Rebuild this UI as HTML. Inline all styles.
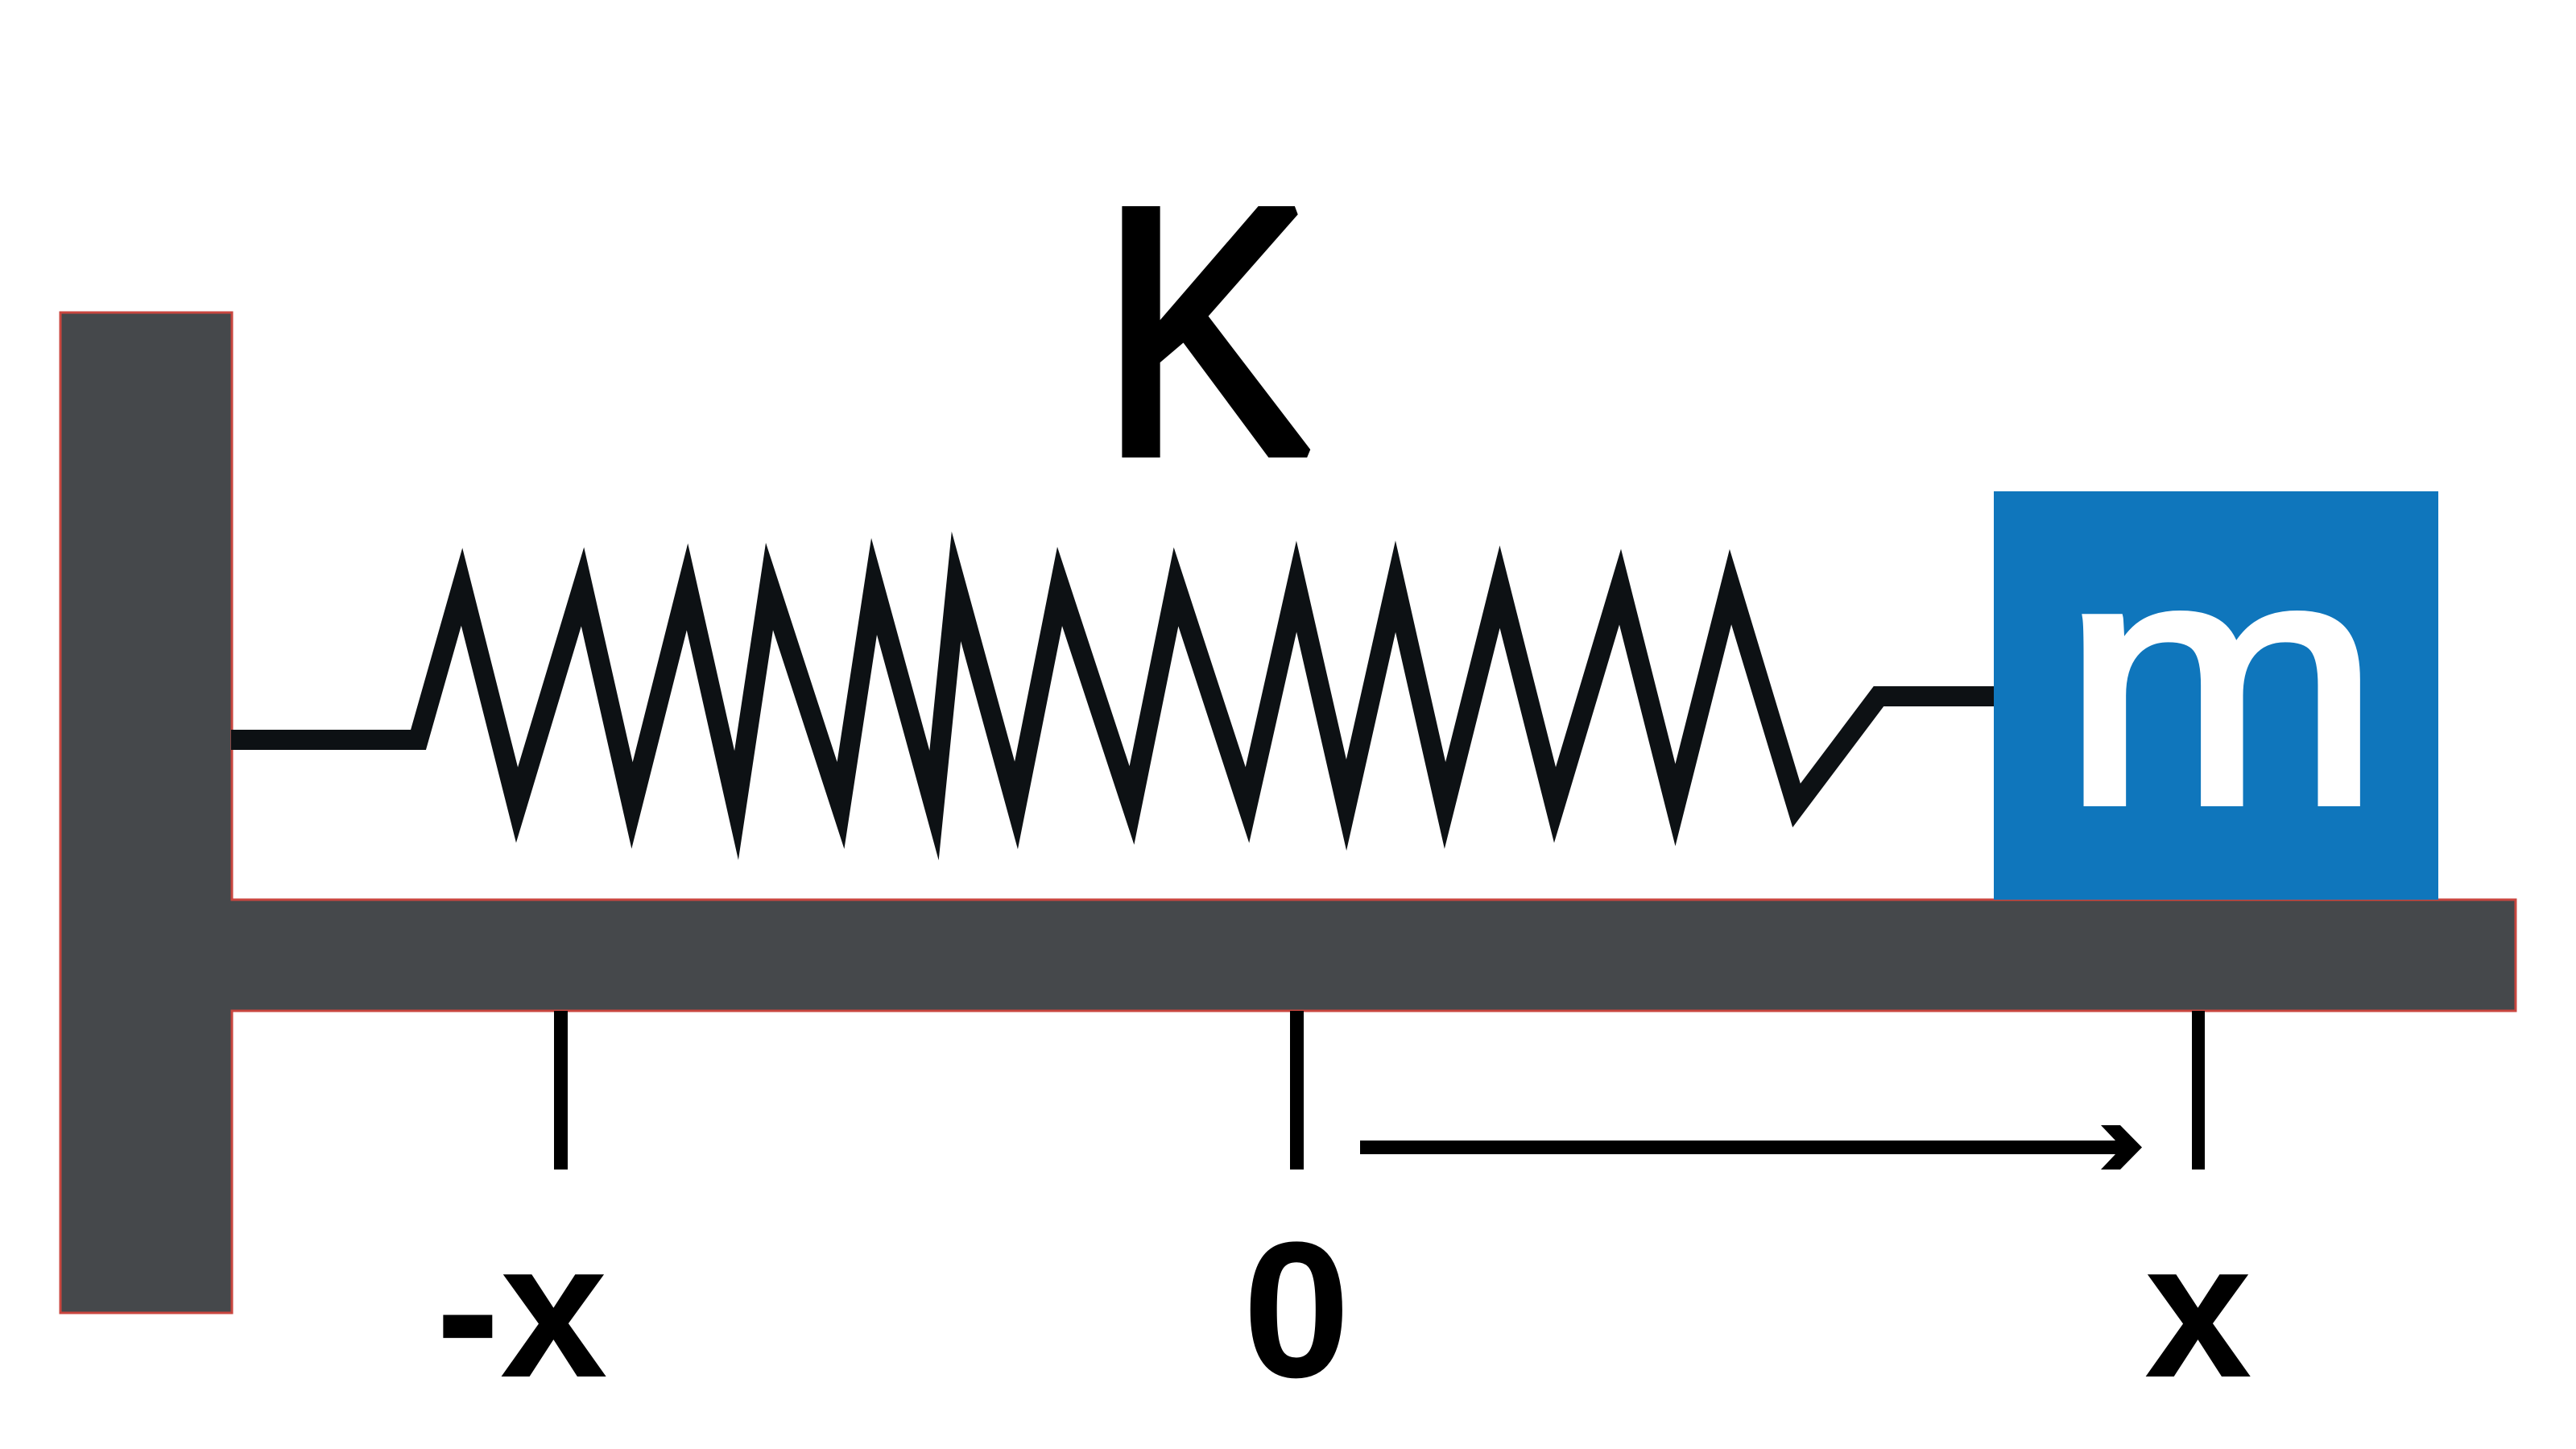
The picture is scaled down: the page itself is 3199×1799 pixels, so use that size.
<!DOCTYPE html>
<html>
<head>
<meta charset="utf-8">
<style>
  html, body { margin: 0; padding: 0; background: #ffffff; }
  body { width: 3199px; height: 1799px; overflow: hidden; }
  svg { display: block; }
  text { font-family: "Liberation Sans", "DejaVu Sans", sans-serif; }
</style>
</head>
<body>
<svg width="3199" height="1799" viewBox="0 0 3199 1799" xmlns="http://www.w3.org/2000/svg">
  <rect x="0" y="0" width="3199" height="1799" fill="#ffffff"/>

  <!-- Wall + floor beam (single outlined shape) -->
  <path d="M75 388 L288 388 L288 1117 L3124 1117 L3124 1255 L288 1255 L288 1630 L75 1630 Z"
        fill="#45484b" stroke="#c9463f" stroke-width="3" stroke-linejoin="miter"/>

  <!-- Mass block -->
  <rect x="2476" y="610" width="552" height="507" fill="#0f76bc"/>
  <text transform="translate(2560 996) scale(1.1 1)" font-size="433" fill="#ffffff"
        stroke="#ffffff" stroke-width="10" stroke-linejoin="miter" stroke-miterlimit="2">m</text>

  <!-- Spring -->
  <polyline fill="none" stroke="#0d1114" stroke-width="25" stroke-linejoin="miter" stroke-miterlimit="30"
    points="287,918.5 519.5,918.5 573.5,728.5 642,999.5 723.5,728.5 785,1000 853.5,728.5 914.5,1000 955.5,728 1044,1000 1085.5,728 1160,1000 1187.5,728 1262,1000 1316,728 1405.5,1000 1460.5,728.5 1549,999.5 1610,728 1672,999.5 1733,728 1794.5,1000 1862.5,728.5 1931,999.5 2012,728.5 2080.5,999.5 2149,728.5 2231,1000 2333,864.5 2476,864.5"/>

  <!-- K label -->
  <text transform="translate(1366.7 562) scale(0.897 1)" font-size="436" fill="#000000"
        stroke="#000000" stroke-width="12" stroke-linejoin="miter" stroke-miterlimit="2">K</text>

  <!-- Ticks -->
  <rect x="688" y="1255" width="17" height="197" fill="#000000"/>
  <rect x="1602" y="1255" width="17" height="197" fill="#000000"/>
  <rect x="2722" y="1255" width="16" height="197" fill="#000000"/>

  <!-- Arrow -->
  <polygon fill="#000000"
    points="1689,1416 2627,1416 2609,1397 2633,1397 2660,1424.5 2633,1452 2609,1452 2627,1433 1689,1433"/>

  <!-- Axis labels -->
  <text x="541" y="1709" font-size="240" font-weight="bold" fill="#000000">-x</text>
  <text x="1610" y="1709" font-size="240" font-weight="bold" fill="#000000" text-anchor="middle">0</text>
  <text x="2663" y="1709" font-size="240" font-weight="bold" fill="#000000">x</text>
</svg>
</body>
</html>
